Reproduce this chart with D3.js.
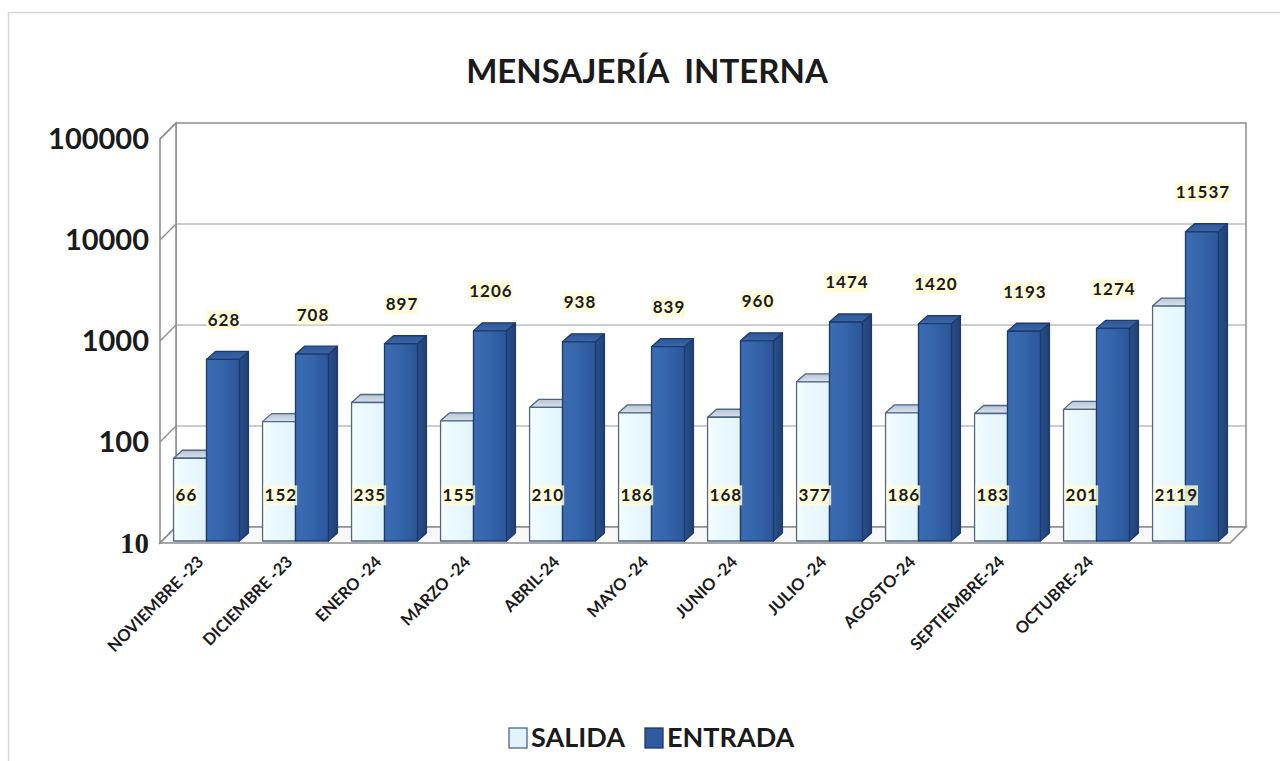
<!DOCTYPE html>
<html>
<head>
<meta charset="utf-8">
<script src="https://cdn.jsdelivr.net/npm/d3@7"></script>
<style>
  body { margin: 0; background: #fff; }
  svg text { font-family: Lato, "Open Sans", sans-serif; font-weight: bold; fill: #1b1b1b; }
</style>
</head>
<body>
<svg id="chart" width="1280" height="761"></svg>
<script>
const categories = ['NOVIEMBRE -23', 'DICIEMBRE -23', 'ENERO -24', 'MARZO -24', 'ABRIL-24', 'MAYO -24',
  'JUNIO -24', 'JULIO -24', 'AGOSTO-24', 'SEPTIEMBRE-24', 'OCTUBRE-24', ''];
const salida = [66, 152, 235, 155, 210, 186, 168, 377, 186, 183, 201, 2119];
const entrada = [628, 708, 897, 1206, 938, 839, 960, 1474, 1420, 1193, 1274, 11537];
const seriesNames = ['SALIDA', 'ENTRADA'];
const yTicks = [10, 100, 1000, 10000, 100000];

const svg = d3.select('#chart');
const defs = svg.append('defs');

// frame of the chart area
svg.append('path')
  .attr('d', 'M8.5,761 V12.5 H1280')
  .attr('fill', 'none').attr('stroke', '#d6d6d6').attr('stroke-width', 1.5);

svg.append('text')
  .attr('x', 647).attr('y', 83)
  .attr('text-anchor', 'middle')
  .style('white-space', 'pre')
  .attr('font-size', 33)
  .text('MENSAJERÍA  INTERNA');

// 3D box: front plane and back wall offset by depth
const depth = { dx: 16, dy: 16 };
const x = d3.scaleBand()
  .domain(d3.range(categories.length))
  .range([162, 1230])
  .paddingInner(0.26)
  .paddingOuter(0.13);
const xSeries = d3.scaleBand().domain(seriesNames).range([0, x.bandwidth()]);

const yFront = d3.scaleLog().domain([10, 100000]).range([543, 139]);
const yBar = d3.scaleLog().domain([10, 100000]).range([541, 137]);

const x0 = x.range()[0] - 2, x1 = x.range()[1];
const wallColor = '#8c8c8c';

// back wall
const backY = v => yFront(v) - depth.dy;
svg.append('rect')
  .attr('x', x0 + depth.dx).attr('y', backY(100000))
  .attr('width', x1 - x0).attr('height', backY(10) - backY(100000))
  .attr('fill', '#fff').attr('stroke', wallColor).attr('stroke-width', 1.5);

svg.append('g').selectAll('line').data(yTicks.slice(1, -1)).join('line')
  .attr('x1', x0 + depth.dx).attr('x2', x1 + depth.dx)
  .attr('y1', d => backY(d)).attr('y2', d => backY(d))
  .attr('stroke', '#9a9a9a').attr('stroke-width', 1.2);

// left wall
svg.append('path')
  .attr('d', `M${x0},${yFront(10)} L${x0 + depth.dx},${backY(10)} V${backY(100000)} L${x0},${yFront(100000)} Z`)
  .attr('fill', '#fff').attr('stroke', wallColor).attr('stroke-width', 1.5);
svg.append('g').selectAll('line').data(yTicks).join('line')
  .attr('x1', x0).attr('x2', x0 + depth.dx)
  .attr('y1', d => yFront(d)).attr('y2', d => backY(d))
  .attr('stroke', wallColor).attr('stroke-width', 1.3);

// floor
svg.append('path')
  .attr('d', `M${x0},${yFront(10)} H${x1} L${x1 + depth.dx},${backY(10)} H${x0 + depth.dx} Z`)
  .attr('fill', '#f8f8f8').attr('stroke', wallColor).attr('stroke-width', 1.5);

// y tick labels
svg.append('g').selectAll('text').data(yTicks).join('text')
  .attr('x', 149).attr('y', d => yFront(d) + 3)
  .attr('text-anchor', 'end').attr('dominant-baseline', 'middle')
  .attr('font-size', 29)
  .style('font-family', d => d === 10 ? '"Liberation Serif", serif' : null)
  .text(d => d);

// gradients
function grad(id, stops, horizontal = true) {
  const g = defs.append('linearGradient').attr('id', id)
    .attr('x1', 0).attr('y1', 0).attr('x2', horizontal ? 1 : 0).attr('y2', horizontal ? 0 : 1);
  stops.forEach(([o, c]) => g.append('stop').attr('offset', o).attr('stop-color', c));
}
grad('entFront', [[0, '#3b6bb2'], [0.45, '#3565ab'], [1, '#2b5699']]);
grad('entSide', [[0, '#2a4f8a'], [1, '#213f74']]);
grad('entTop', [[0, '#2e5798'], [1, '#3a66a8']], false);
grad('salFront', [[0, '#ffffff'], [0.15, '#eefbff'], [1, '#e2f4fb']]);
grad('salTop', [[0, '#b7c4d2'], [1, '#dbe3ec']], false);

const styles = {
  SALIDA: { front: 'url(#salFront)', side: '#c9d6e2', top: 'url(#salTop)', stroke: '#4e6688' },
  ENTRADA: { front: 'url(#entFront)', side: 'url(#entSide)', top: 'url(#entTop)', stroke: '#1d3a6c' },
};
const bd = { dx: 9, dy: 8 };

const rows = categories.map((c, i) => ({ i, SALIDA: salida[i], ENTRADA: entrada[i] }));
const bars = svg.append('g');
rows.forEach(r => {
  seriesNames.forEach(s => {
    const st = styles[s];
    const bx = x(r.i) + xSeries(s);
    const w = xSeries.bandwidth();
    const yt = yBar(r[s]);
    const yb = yBar(10);
    const g = bars.append('g').attr('stroke', st.stroke).attr('stroke-width', 1.3).attr('stroke-linejoin', 'round');
    g.append('path')
      .attr('d', `M${bx + w},${yt} L${bx + w + bd.dx},${yt - bd.dy} V${yb - bd.dy} L${bx + w},${yb} Z`)
      .attr('fill', st.side);
    g.append('path')
      .attr('d', `M${bx},${yt} L${bx + bd.dx},${yt - bd.dy} H${bx + w + bd.dx} L${bx + w},${yt} Z`)
      .attr('fill', st.top);
    g.append('rect')
      .attr('x', bx).attr('y', yt).attr('width', w).attr('height', yb - yt)
      .attr('fill', st.front);
  });
});

// data labels with pale yellow backing
const labels = svg.append('g');
function dataLabel(tx, ty, anchor, txt) {
  const t = labels.append('text')
    .attr('x', tx).attr('y', ty)
    .attr('text-anchor', anchor).attr('dominant-baseline', 'middle')
    .attr('font-size', 17).style('letter-spacing', '1px')
    .text(txt);
  const b = t.node().getBBox();
  labels.insert('rect', () => t.node())
    .attr('x', b.x - 1).attr('y', b.y + 1).attr('width', b.width + 1).attr('height', b.height - 1)
    .attr('fill', '#fffbd6').attr('opacity', 0.85);
}
rows.forEach(r => {
  dataLabel(x(r.i) + xSeries('SALIDA') + 2, 497, 'start', r.SALIDA);
  dataLabel(x(r.i) + xSeries('ENTRADA') + xSeries.bandwidth() / 2 + 1, yBar(r.ENTRADA) - 38, 'middle', r.ENTRADA);
});

// category labels
svg.append('g').selectAll('text').data(rows).join('text')
  .attr('transform', r => `translate(${x(r.i) + x.bandwidth() / 2 - 2},${563}) rotate(-45)`)
  .attr('text-anchor', 'end')
  .attr('font-size', 16.5)
  .text(r => categories[r.i]);

// legend
const legend = svg.append('g').attr('transform', 'translate(509,728)');
const legX = { SALIDA: 0, ENTRADA: 136 };
seriesNames.forEach(s => {
  const g = legend.append('g').attr('transform', `translate(${legX[s]},0)`);
  g.append('rect').attr('width', 18).attr('height', 20)
    .attr('fill', s === 'SALIDA' ? '#e4f3fb' : '#2f5b9e')
    .attr('stroke', s === 'SALIDA' ? '#4e6688' : '#1d3a6c').attr('stroke-width', 1.3);
  g.append('text').attr('x', 22).attr('y', 19).attr('font-size', 27).text(s);
});
</script>
</body>
</html>
